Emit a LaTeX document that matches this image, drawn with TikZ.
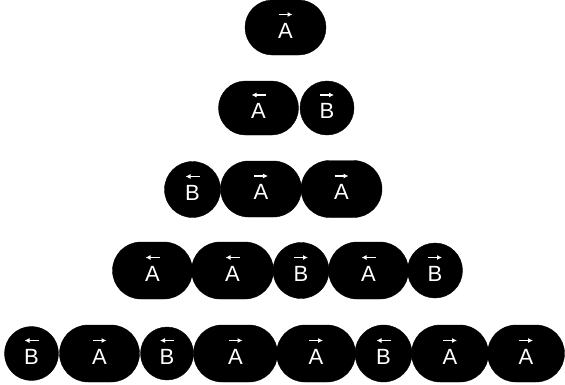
\documentclass[tikz,border=0pt]{standalone}
\usepackage{fontspec}
\setmainfont{Liberation Sans}
\usetikzlibrary{arrows.meta,shapes.misc}
\tikzset{
  acell/.style={fill=black, draw=black, rounded rectangle, rounded rectangle arc length=180, inner sep=0pt},
  bcell/.style={fill=black, draw=black, circle, inner sep=0pt},
  celltext/.style={text=white, inner sep=0pt, font=\fontsize{22}{22}\selectfont},
  cellarrow/.style={white, line width=1.5pt, arrows={-{Latex[length=5pt,width=5pt]}}},
}
% name, cx, cy, w, h, letter, style, arrow direction (1 right, -1 left)
\newcommand\mycell[8]{%
  \node[#7, minimum width=#4pt, minimum height=#5pt] (#1) at (#2,#3) {};
  \node[celltext] (#1-t) at ([yshift=-3pt]#1.center) {#6};
  \coordinate (#1-s) at ([xshift=-7pt*#8, yshift=13pt]#1.center);
  \coordinate (#1-e) at ([xshift=7pt*#8, yshift=13pt]#1.center);
  \draw[cellarrow] (#1-s) -- (#1-e);
}
\begin{document}
\begin{tikzpicture}[x=1pt, y=-1pt]
\useasboundingbox (0,0) rectangle (565,384);
% row 1
\mycell{r1a}{285.5}{27.5}{81}{55}{A}{acell}{1}
% row 2
\mycell{r2a}{258.5}{108}{80}{54}{A}{acell}{-1}
\mycell{r2b}{327}{108}{54}{54}{B}{bcell}{1}
% row 3
\mycell{r3a}{192.5}{189.5}{56}{55}{B}{bcell}{-1}
\mycell{r3b}{261}{189}{81}{56}{A}{acell}{1}
\mycell{r3c}{341.5}{189}{81}{57}{A}{acell}{1}
% row 4
\mycell{r4a}{152.5}{270.5}{80}{57}{A}{acell}{-1}
\mycell{r4b}{232.5}{270.5}{82}{57}{A}{acell}{-1}
\mycell{r4c}{301}{270.5}{56}{56}{B}{bcell}{1}
\mycell{r4d}{368.5}{270.5}{80}{57}{A}{acell}{-1}
\mycell{r4e}{435}{270.5}{55}{55}{B}{bcell}{1}
% row 5
\mycell{r5a}{31.5}{353.5}{54}{54}{B}{bcell}{-1}
\mycell{r5b}{99.5}{353.5}{80}{57}{A}{acell}{1}
\mycell{r5c}{167}{353.5}{53}{53}{B}{bcell}{-1}
\mycell{r5d}{235.5}{353.5}{84}{57}{A}{acell}{1}
\mycell{r5e}{316}{353.5}{79}{57}{A}{acell}{1}
\mycell{r5f}{383.5}{353.5}{57}{57}{B}{bcell}{-1}
\mycell{r5g}{450}{353.5}{77}{57}{A}{acell}{1}
\mycell{r5h}{526}{353.5}{77}{57}{A}{acell}{1}
\end{tikzpicture}
\end{document}
